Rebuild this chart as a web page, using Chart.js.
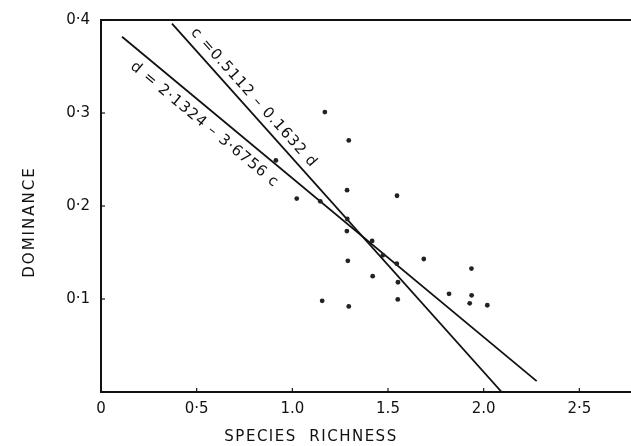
<!DOCTYPE html>
<html><head><meta charset="utf-8">
<script src="https://cdn.jsdelivr.net/npm/chart.js@4/dist/chart.umd.min.js"></script>
<style>html,body{margin:0;padding:0;background:#fff;} #wrap{width:631px;height:446px;}</style>
</head><body><div id="wrap"><canvas id="c" width="631" height="446"></canvas></div>
<script>
// ---- data ----
const richness  = [1.170, 1.295, 0.914, 1.286, 1.547, 1.023, 1.146, 1.287, 1.285, 1.417, 1.473, 1.546,
                   1.687, 1.290, 1.420, 1.552, 1.156, 1.295, 1.551, 1.936, 1.819, 1.937, 1.927, 2.019];
const dominance = [0.301, 0.2705, 0.249, 0.217, 0.211, 0.208, 0.205, 0.186, 0.173, 0.1625, 0.147, 0.138,
                   0.143, 0.141, 0.1245, 0.118, 0.098, 0.092, 0.0995, 0.1327, 0.1056, 0.104, 0.0954, 0.0933];
const lineC_x = [0.371, 2.094];
const lineC_y = [0.396, 0.0];
const lineD_x = [0.110, 2.277];
const lineD_y = [0.382, 0.0117];
const xTickValues = [0, 0.5, 1.0, 1.5, 2.0, 2.5];
const xTickLabels = ['0', '0·5', '1.0', '1.5', '2.0', '2·5'];
const yTickValues = [0.1, 0.2, 0.3, 0.4];
const yTickLabels = ['0·1', '0·2', '0·3', '0·4'];
const eqC = 'c =0.5112 – 0.1632 d';
const eqD = 'd = 2·1324 – 3·6756 c';
const xTitle = 'SPECIES  RICHNESS';
const yTitle = 'DOMINANCE';

const toXY = (xs, ys) => xs.map((x, i) => ({x: x, y: ys[i]}));

const FONT = '"DejaVu Sans", sans-serif';

const extras = {
  id: 'extras',
  afterDraw(chart) {
    const ctx = chart.ctx, a = chart.chartArea;
    const xs = chart.scales.x, ys = chart.scales.y;
    ctx.save();
    ctx.strokeStyle = '#111';
    // top frame line
    ctx.lineWidth = 2;
    ctx.beginPath(); ctx.moveTo(a.left, a.top); ctx.lineTo(a.right, a.top); ctx.stroke();
    // inward ticks
    ctx.lineWidth = 1.2;
    xTickValues.forEach(v => { if (v === 0) return; const p = xs.getPixelForValue(v);
      ctx.beginPath(); ctx.moveTo(p, a.bottom); ctx.lineTo(p, a.bottom - 4); ctx.stroke(); });
    yTickValues.forEach(v => { const p = ys.getPixelForValue(v);
      ctx.beginPath(); ctx.moveTo(a.left, p); ctx.lineTo(a.left + 4, p); ctx.stroke(); });
    // equation labels along the lines
    const label = (lx, ly, text, t, off) => {
      const x0 = xs.getPixelForValue(lx[0]), y0 = ys.getPixelForValue(ly[0]);
      const x1 = xs.getPixelForValue(lx[1]), y1 = ys.getPixelForValue(ly[1]);
      const ang = Math.atan2(y1 - y0, x1 - x0);
      const L = Math.hypot(x1 - x0, y1 - y0);
      const ux = (x1 - x0) / L, uy = (y1 - y0) / L;
      const cx = x0 + ux * L * t + uy * off;
      const cy = y0 + uy * L * t - ux * off;
      ctx.save();
      ctx.translate(cx, cy); ctx.rotate(ang);
      ctx.font = '15px ' + FONT; ctx.fillStyle = '#111';
      ctx.letterSpacing = '1px';
      ctx.textAlign = 'center'; ctx.textBaseline = 'middle';
      ctx.fillText(text, 0, 0);
      ctx.restore();
    };
    label(lineC_x, lineC_y, eqC, 0.222, 11.5);
    label(lineD_x, lineD_y, eqD, 0.222, -15);
    // axis titles
    ctx.fillStyle = '#111';
    ctx.font = '15px ' + FONT;
    ctx.letterSpacing = '1.5px';
    ctx.textAlign = 'center'; ctx.textBaseline = 'middle';
    ctx.fillText(xTitle, 311, 437);
    ctx.save();
    ctx.translate(30, 222); ctx.rotate(-Math.PI / 2);
    ctx.letterSpacing = '2px';
    ctx.fillText(yTitle, 0, 0);
    ctx.restore();
    ctx.restore();
  }
};

new Chart(document.getElementById('c'), {
  type: 'scatter',
  data: {
    datasets: [
      { label: 'sites', data: toXY(richness, dominance), backgroundColor: '#222', borderColor: '#222',
        pointRadius: 2.4, pointBorderWidth: 0, pointHoverRadius: 2.4 },
      { label: 'c line', data: toXY(lineC_x, lineC_y), showLine: true, pointRadius: 0, pointHoverRadius: 0,
        borderColor: '#111', borderWidth: 1.8, fill: false },
      { label: 'd line', data: toXY(lineD_x, lineD_y), showLine: true, pointRadius: 0, pointHoverRadius: 0,
        borderColor: '#111', borderWidth: 1.8, fill: false }
    ]
  },
  options: {
    responsive: false, animation: false, devicePixelRatio: 1,
    layout: { autoPadding: false, padding: { top: 16, right: 0, left: 0, bottom: 0 } },
    plugins: { legend: { display: false }, tooltip: { enabled: false } },
    scales: {
      x: {
        type: 'linear', min: 0, max: 2.77,
        afterFit(s) { s.height = 54; },
        afterBuildTicks(s) { s.ticks = xTickValues.map(v => ({ value: v })); },
        ticks: { callback: (v) => { const i = xTickValues.indexOf(v); return i >= 0 ? xTickLabels[i] : ''; },
                 font: { family: FONT, size: 15 }, color: '#111', padding: 8, maxRotation: 0, autoSkip: false },
        grid: { display: true, drawOnChartArea: false, drawTicks: false },
        border: { display: true, color: '#111', width: 2 }
      },
      y: {
        type: 'linear', min: 0, max: 0.4,
        afterFit(s) { s.width = 101; },
        afterBuildTicks(s) { s.ticks = yTickValues.map(v => ({ value: v })); },
        ticks: { callback: (v) => { const i = yTickValues.indexOf(v); return i >= 0 ? yTickLabels[i] : ''; },
                 font: { family: FONT, size: 15 }, color: '#111', padding: 11 },
        grid: { display: true, drawOnChartArea: false, drawTicks: false },
        border: { display: true, color: '#111', width: 2 }
      }
    }
  },
  plugins: [extras]
});
</script></body></html>
